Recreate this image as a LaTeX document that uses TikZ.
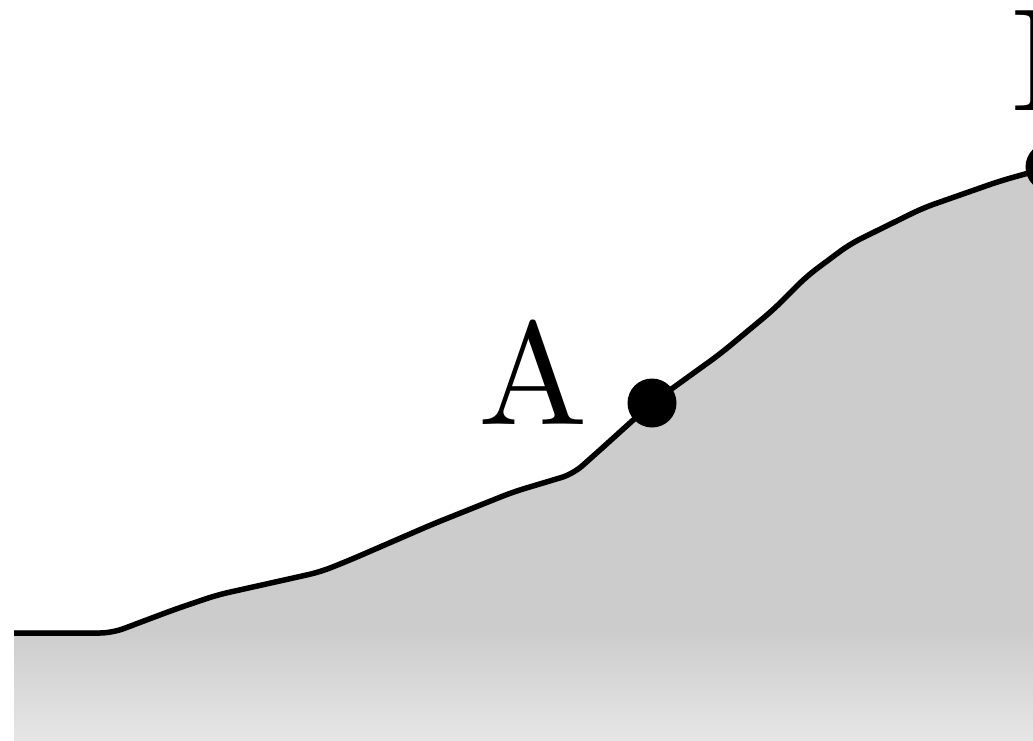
\documentclass[tikz,border=0pt]{standalone}
\usepackage{fontspec}
\newfontfamily\lmten{lmroman10-regular}[Extension=.otf]
\begin{document}
\begin{tikzpicture}[x=1pt,y=-1pt,
  profile/.style={line width=5.5pt,line join=round,line cap=butt,rounded corners=12pt},
  dotmark/.style={circle,fill=black,inner sep=0pt,minimum size=49pt},
  biglabel/.style={font=\lmten\fontsize{146}{146}\selectfont,inner sep=0pt}]
\definecolor{hill}{HTML}{CCCCCC}
\definecolor{hillbottom}{HTML}{E6E6E6}
\useasboundingbox (0,0) rectangle (1033,740);
\clip (0,0) rectangle (1033,740);
% coordinates of the profile
\coordinate (p0) at (14,633);
\coordinate (p1) at (112,633);
\coordinate (p2) at (173,610);
\coordinate (p3) at (217,595);
\coordinate (p4) at (320,572);
\coordinate (p5) at (350,560);
\coordinate (p6) at (433,524);
\coordinate (p7) at (513,492);
\coordinate (p8) at (573,474);
\coordinate (p9) at (600,450);
\coordinate (pA) at (652,403);
\coordinate (p10) at (720,354);
\coordinate (p11) at (773,310);
\coordinate (p12) at (807,276);
\coordinate (p13) at (850,244);
\coordinate (p14) at (923,208);
\coordinate (p15) at (1000,181);
\coordinate (pB) at (1050,167);
% fill
\fill[hill] (p0) -- (p1) -- (p2) -- (p3) -- (p4) -- (p5) -- (p6) -- (p7) -- (p8) -- (p9) -- (pA) -- (p10) -- (p11) -- (p12) -- (p13) -- (p14) -- (p15) -- (pB) -- (1050,740) -- (14,740) -- cycle;
\shade[top color=hill,bottom color=hillbottom] (14,630) rectangle (1050,740);
% outline
\draw[profile] (p0) -- (p1) -- (p2) -- (p3) -- (p4) -- (p5) -- (p6) -- (p7) -- (p8) -- (p9) -- (pA) -- (p10) -- (p11) -- (p12) -- (p13) -- (p14) -- (p15) -- (pB);
% points
\node[dotmark] (A) at (pA) {};
\node[dotmark] (B) at (pB) {};
\node[biglabel,anchor=base west] (Alab) at (478,424) {A};
\node[biglabel,anchor=base west] (Blab) at (1010,110) {B};
\end{tikzpicture}
\end{document}
